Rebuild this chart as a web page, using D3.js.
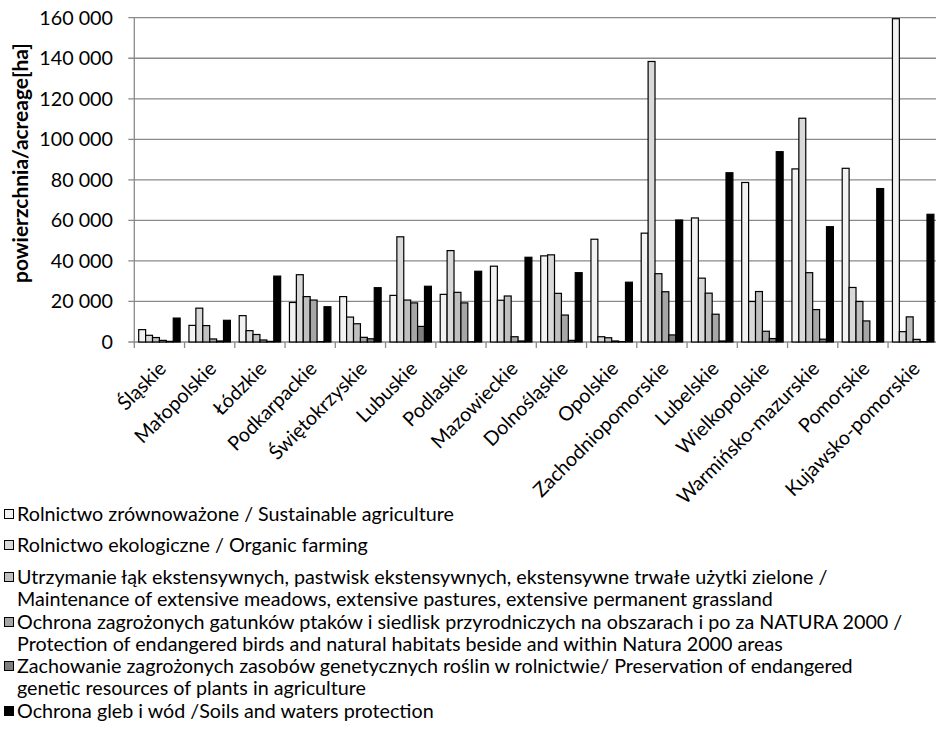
<!DOCTYPE html>
<html>
<head>
<meta charset="utf-8">
<script src="https://cdn.jsdelivr.net/npm/d3@7"></script>
<style>
  body { margin: 0; background: #fff; }
  text { font-family: Lato, "Open Sans", sans-serif; fill: #000; }
</style>
</head>
<body>
<svg id="chart" width="936" height="732"></svg>
<script>
// Agri-environmental programme acreage by voivodeship

const regions = ['Śląskie', 'Małopolskie', 'Łódzkie', 'Podkarpackie', 'Świętokrzyskie',
  'Lubuskie', 'Podlaskie', 'Mazowieckie', 'Dolnośląskie', 'Opolskie', 'Zachodniopomorskie',
  'Lubelskie', 'Wielkopolskie', 'Warmińsko-mazurskie', 'Pomorskie', 'Kujawsko-pomorskie'];

const sustainable = [6100, 8200, 13000, 19500, 22400, 23000, 23500, 37400, 42500, 50700, 53700, 61200, 78700, 85400, 85700, 159500];
const organic     = [3300, 16700, 5600, 33200, 12300, 51900, 45100, 20600, 43000, 2600, 138400, 31500, 20000, 110400, 26900, 5100];
const meadows     = [2200, 8100, 3700, 22400, 9000, 20700, 24500, 22700, 24000, 2100, 33700, 24100, 24900, 34200, 20000, 12400];
const birds       = [800, 1500, 1000, 20700, 2300, 19300, 19300, 2600, 13300, 500, 24800, 13700, 5300, 16000, 10400, 1300];
const genetic     = [300, 500, 300, 200, 1600, 7700, 100, 500, 800, 200, 3500, 500, 1700, 1400, 100, 200];
const soils       = [11800, 10700, 32500, 17400, 26800, 27500, 34900, 41800, 34200, 29500, 60200, 83500, 93900, 56900, 75700, 63000];

const yTicks = [0, 20000, 40000, 60000, 80000, 100000, 120000, 140000, 160000];

const legendLines = [
  ['Rolnictwo zrównoważone / Sustainable agriculture'],
  ['Rolnictwo ekologiczne / Organic farming'],
  ['Utrzymanie łąk ekstensywnych, pastwisk ekstensywnych, ekstensywne trwałe użytki zielone /',
   'Maintenance of extensive meadows,  extensive pastures, extensive permanent grassland'],
  ['Ochrona zagrożonych gatunków ptaków i siedlisk przyrodniczych na obszarach i po za NATURA 2000 /',
   'Protection of endangered birds and natural habitats beside and within Natura 2000 areas'],
  ['Zachowanie zagrożonych zasobów genetycznych roślin w rolnictwie/ Preservation of endangered',
   'genetic resources of plants in agriculture'],
  ['Ochrona gleb i wód /Soils and waters protection']
];

const seriesValues = [sustainable, organic, meadows, birds, genetic, soils];
const fills = ['#f2f2f2', '#d9d9d9', '#bfbfbf', '#a6a6a6', '#7f7f7f', '#000000'];

const svg = d3.select('#chart');

// font size picked so text is as wide as in the picture
const fitSize = (str, width, weight) => {
  const probe = svg.append('text')
    .attr('font-size', 100)
    .attr('font-weight', weight || 'normal')
    .text(str);
  const size = 100 * width / probe.node().getComputedTextLength();
  probe.remove();
  return size;
};
const fontSize = fitSize(legendLines[2][0], 811);
const titleSize = fitSize('powierzchnia/acreage[ha]', 240, 'bold');

const plotLeft = 134.3, plotRight = 938.3, plotTop = 17.7, plotBottom = 342;

const x = d3.scaleBand()
  .domain(regions)
  .range([plotLeft, plotRight]);

const xs = d3.scaleBand()
  .domain(d3.range(6))
  .range([4.4, x.bandwidth() - 4.4]);

const y = d3.scaleLinear()
  .domain([0, 160000])
  .range([plotBottom, plotTop]);

const fmt = v => d3.format(',')(v).replace(/,/g, ' ');

// gridlines + y ticks
svg.append('g')
  .selectAll('line')
  .data(yTicks)
  .join('line')
    .attr('x1', plotLeft - 6)
    .attr('x2', plotRight)
    .attr('y1', d => y(d))
    .attr('y2', d => y(d))
    .attr('stroke', '#8a8a8a')
    .attr('stroke-width', 1.3);

svg.append('g')
  .selectAll('text')
  .data(yTicks)
  .join('text')
    .attr('x', 113)
    .attr('y', d => y(d))
    .attr('dy', '0.35em')
    .attr('text-anchor', 'end')
    .attr('font-size', fontSize)
    .text(fmt);

// axis lines
svg.append('line')
  .attr('x1', plotLeft).attr('x2', plotLeft)
  .attr('y1', plotTop).attr('y2', plotBottom)
  .attr('stroke', '#8a8a8a').attr('stroke-width', 1.3);

svg.append('g')
  .selectAll('line')
  .data(regions.concat(['end']))
  .join('line')
    .attr('x1', (d, i) => plotLeft + i * x.step())
    .attr('x2', (d, i) => plotLeft + i * x.step())
    .attr('y1', plotBottom)
    .attr('y2', plotBottom + 6)
    .attr('stroke', '#8a8a8a')
    .attr('stroke-width', 1.3);

// bars
const groups = svg.append('g')
  .selectAll('g')
  .data(regions)
  .join('g')
    .attr('transform', d => `translate(${x(d)},0)`);

groups.selectAll('rect')
  .data((d, i) => seriesValues.map((s, k) => ({ k, v: s[i] })))
  .join('rect')
    .attr('x', d => xs(d.k))
    .attr('y', d => y(d.v))
    .attr('width', xs.bandwidth())
    .attr('height', d => plotBottom - y(d.v))
    .attr('fill', d => fills[d.k])
    .attr('stroke', '#000')
    .attr('stroke-width', 1.2);

// category labels
svg.append('g')
  .selectAll('text')
  .data(regions)
  .join('text')
    .attr('transform', d => `translate(${x(d) + x.bandwidth() / 2 + 3},365) rotate(-45)`)
    .attr('dy', '0.35em')
    .attr('text-anchor', 'end')
    .attr('font-size', fontSize)
    .text(d => d);

// y axis title
svg.append('text')
  .attr('transform', 'translate(21,163) rotate(-90)')
  .attr('dy', '0.35em')
  .attr('text-anchor', 'middle')
  .attr('font-size', titleSize)
  .attr('font-weight', 'bold')
  .text('powierzchnia/acreage[ha]');

// legend
const legendY = [514, 545, 577, 622, 666, 711];
const lineGap = 22.5;

const items = svg.append('g')
  .selectAll('g')
  .data(legendLines)
  .join('g')
    .attr('transform', (d, i) => `translate(0,${legendY[i]})`);

items.append('rect')
  .attr('x', 4.5)
  .attr('y', -4.5)
  .attr('width', 9)
  .attr('height', 9)
  .attr('fill', (d, i) => fills[i])
  .attr('stroke', '#000')
  .attr('stroke-width', 1);

items.selectAll('text')
  .data(d => d)
  .join('text')
    .attr('x', 17)
    .attr('y', (d, j) => j * lineGap)
    .attr('dy', '0.35em')
    .attr('font-size', fontSize)
    .text(d => d);
</script>
</body>
</html>
